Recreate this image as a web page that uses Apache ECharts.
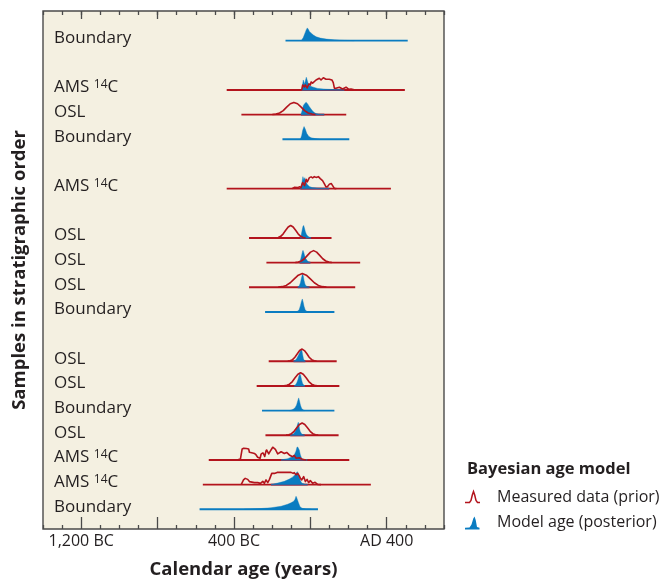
<!DOCTYPE html>
<html>
<head>
<meta charset="utf-8">
<script src="https://cdn.jsdelivr.net/npm/echarts@6/dist/echarts.min.js"></script>
<style>
  html, body { margin: 0; padding: 0; background: #ffffff; }
  #chart { width: 665px; height: 584px; }
</style>
</head>
<body>
<div id="chart"></div>
<script>
// Calendar axis: negative years are BC, positive are AD
const tickYears = [-1200, -400, 400];
const tickLabels = ['1,200 BC', '400 BC', 'AD 400'];
const majorTickYears = [-1200, -800, -400, 0, 400];

// Samples from top (youngest) to bottom (oldest) of the sequence
const sampleKinds = ['Boundary', 'AMS', 'OSL', 'Boundary', 'AMS', 'OSL', 'OSL', 'OSL',
                     'Boundary', 'OSL', 'OSL', 'Boundary', 'OSL', 'AMS', 'AMS', 'Boundary'];
const sampleSlots = [19, 17, 16, 15, 13, 11, 10, 9, 8, 6, 5, 4, 3, 2, 1, 0];
// Extent of the calculated range for each sample (years)
const rangeStart = [-130, -438, -361, -146, -438, -321, -230, -321, -237, -218, -281, -253, -235, -532, -563, -580];
const rangeEnd   = [510, 495, 188, 204, 422, 111, 261, 235, 126, 138, 152, 126, 148, 204, 317, 40];

// Measured (prior) probability curves: [year, relative density]
const prior2 = [[-45,0],[-40,.4],[-31,.24],[-26,.4],[-17,.16],[-7,.48],[0,.4],[4,.64],[12,.54],[30,.8],[47,.94],[56,.8],[68,.98],[82,.86],[99,.86],[113,.8],[120,.58],[126,.14],[134,.14],[152,.22],[169,.08],[187,.22],[200,.06],[213,.08],[230,.02],[317,0]];
const prior3 = [[-199,.01],[-180,.04],[-161,.13],[-142,.32],[-124,.6],[-105,.87],[-86,.98],[-67,.87],[-48,.6],[-30,.32],[-11,.13],[8,.04],[27,.01]];
const prior5 = [[-96,0],[-84,.1],[-66,.08],[-58,.14],[-49,.08],[-40,.48],[-30,.24],[-22,.74],[-16,.54],[-5,.88],[4,.94],[12,.86],[21,.96],[30,.9],[42,.96],[52,.8],[64,.64],[73,.4],[82,.14],[90,.16],[99,.34],[110,.4],[120,.16],[126,.02],[136,0]];
const prior6 = [[-181,.01],[-168,.04],[-155,.13],[-142,.33],[-129,.61],[-116,.88],[-103,1.0],[-90,.88],[-77,.61],[-64,.33],[-51,.13],[-38,.04],[-25,.01]];
const prior7 = [[-79,.01],[-63,.04],[-47,.13],[-31,.31],[-15,.58],[1,.84],[17,.96],[33,.84],[49,.58],[65,.31],[81,.13],[97,.04],[113,.01]];
const prior8 = [[-168,.01],[-147,.05],[-126,.15],[-105,.36],[-84,.67],[-63,.97],[-42,1.1],[-21,.97],[0,.67],[21,.36],[42,.15],[63,.05],[84,.01]];
const prior10 = [[-118,.01],[-106,.04],[-93,.13],[-81,.32],[-68,.6],[-56,.86],[-43,.98],[-31,.86],[-18,.6],[-6,.32],[7,.13],[20,.04],[32,.01]];
const prior11 = [[-138,.01],[-123,.05],[-109,.14],[-94,.35],[-80,.65],[-65,.94],[-51,1.06],[-37,.94],[-22,.65],[-8,.35],[7,.14],[21,.05],[36,.01]];
const prior13 = [[-127,.01],[-113,.04],[-99,.13],[-85,.32],[-71,.6],[-57,.86],[-43,.98],[-29,.86],[-15,.6],[-1,.32],[13,.13],[27,.04],[41,.01]];
const prior14 = [[-380,.02],[-366,.08],[-357,.88],[-349,.94],[-335,.92],[-323,.88],[-319,.62],[-302,.56],[-293,.52],[-284,.4],[-276,.22],[-263,.14],[-258,.46],[-249,.56],[-246,.52],[-239,.28],[-232,.72],[-229,.8],[-218,.48],[-206,.8],[-197,1.02],[-183,.84],[-171,.48],[-153,.66],[-136,.52],[-124,.6],[-110,.4],[-93,.26],[-84,.36],[-75,.14],[-58,.18],[-43,.06],[-22,0]];
const prior15 = [[-362,0],[-350,.38],[-341,.5],[-328,.42],[-319,.24],[-293,.16],[-276,.16],[-261,.1],[-249,.26],[-241,.1],[-232,.38],[-223,.16],[-214,.42],[-202,.9],[-188,.9],[-174,.98],[-101,.98],[-90,.9],[-84,.96],[-75,.78],[-66,.9],[-58,.7],[-52,.5],[-45,.38],[-35,.64],[-26,.24],[-17,.42],[-9,.16],[0,.32],[12,.1],[25,.18],[38,.02],[56,0]];

// Modelled (posterior) probability curves: [year, relative density]
const post1 = [[-47,0],[-37,.24],[-26,.68],[-21,.88],[-16,1.02],[-10,.9],[-5,.74],[5,.6],[16,.44],[31,.3],[52,.2],[84,.12],[126,.06],[178,.02],[230,0]];
const post2 = [[-45,0],[-41,.4],[-37,.8],[-30,.48],[-21,1.02],[-12,.56],[-2,.32],[12,.24],[38,.12],[82,.06],[134,.02],[178,0]];
const post3 = [[-49,0],[-43,.32],[-37,.72],[-30,.88],[-22,1.0],[-13,.84],[-5,.64],[4,.44],[12,.28],[21,.16],[30,.08],[47,.02],[73,0]];
const post4 = [[-52,0],[-45,.32],[-40,.72],[-33,1.02],[-26,.8],[-19,.48],[-9,.24],[4,.12],[30,.04],[47,0]];
const post5 = [[-52,0],[-44,.48],[-39,.96],[-34,.72],[-29,.88],[-24,.56],[-16,.32],[-5,.16],[10,.08],[47,.02],[99,0]];
const post6 = [[-52,0],[-47,.3],[-42,.7],[-38,.95],[-35,1.0],[-31,.8],[-26,.5],[-21,.3],[-14,.15],[-5,.06],[4,0]];
const post7 = [[-56,0],[-50,.3],[-44,.7],[-40,.95],[-38,.98],[-34,.8],[-29,.5],[-23,.3],[-16,.14],[-8,.05],[0,0]];
const post8 = [[-66,0],[-58,.12],[-52,.35],[-47,.7],[-42,1.0],[-40,1.06],[-37,.9],[-33,.55],[-28,.25],[-22,.1],[-14,.03],[-5,0]];
const post9 = [[-75,0],[-66,.06],[-58,.2],[-52,.5],[-47,.82],[-42,1.04],[-38,.82],[-33,.45],[-27,.18],[-20,.06],[-10,0]];
const post10 = [[-88,0],[-80,.06],[-72,.2],[-65,.4],[-58,.62],[-52,.82],[-48,.94],[-44,.85],[-40,.5],[-36,.2],[-32,.06],[-26,0]];
const post11 = [[-85,0],[-78,.08],[-71,.25],[-65,.5],[-60,.78],[-55,.98],[-51,.85],[-46,.5],[-41,.22],[-35,.07],[-28,0]];
const post12 = [[-110,0],[-100,.04],[-90,.1],[-80,.22],[-72,.45],[-66,.78],[-61,1.02],[-57,.8],[-52,.45],[-46,.18],[-38,.06],[-28,0]];
const post13 = [[-105,0],[-95,.05],[-86,.15],[-78,.35],[-71,.65],[-66,.92],[-63,1.04],[-60,.9],[-57,.55],[-53,.3],[-46,.12],[-38,.04],[-30,0]];
const post14 = [[-153,0],[-119,.1],[-93,.26],[-84,.4],[-75,.72],[-70,1.02],[-66,1.04],[-58,.8],[-52,.4],[-45,.12],[-31,.02],[-16,0]];
const post15 = [[-206,0],[-171,.12],[-136,.26],[-110,.44],[-93,.6],[-80,.8],[-73,.96],[-68,1.04],[-61,.8],[-52,.32],[-45,.12],[-31,.04],[-14,0]];
const post16 = [[-345,0],[-258,.06],[-206,.12],[-153,.24],[-119,.4],[-101,.52],[-87,.64],[-80,.8],[-75,1.04],[-72,.96],[-63,.56],[-54,.2],[-43,.08],[-22,.02],[4,0]];

const priors = [null, prior2, prior3, null, prior5, prior6, prior7, prior8, null, prior10, prior11, null, prior13, prior14, prior15, null];
const posteriors = [post1, post2, post3, post4, post5, post6, post7, post8, post9, post10, post11, post12, post13, post14, post15, post16];

const RED = '#b3141d';
const BLUE = '#0a7cc1';
const OVERLAP = '#7a3a60';
const INK = '#231f20';
const FRAME = '#4a4a4a';
const FONT = '"Open Sans", "Liberation Sans", sans-serif';
const PEAK = 0.505;   // height of a unit density, in row spacings

const rowData = sampleSlots.map((slot, i) => [rangeStart[i], slot, i]);

function renderRange(params, api) {
  const i = api.value(2);
  const slot = sampleSlots[i];
  const a = api.coord([rangeStart[i], slot]);
  const b = api.coord([rangeEnd[i], slot]);
  const measured = priors[i] !== null;
  const children = [{
    type: 'line',
    shape: { x1: a[0], y1: a[1], x2: b[0], y2: b[1] },
    style: { stroke: measured ? RED : BLUE, lineWidth: 1.9 }
  }];
  if (measured) {
    const post = posteriors[i];
    const p = api.coord([post[0][0], slot]);
    const q = api.coord([post[post.length - 1][0], slot]);
    children.push({
      type: 'line',
      shape: { x1: p[0], y1: p[1], x2: q[0], y2: q[1] },
      style: { stroke: OVERLAP, lineWidth: 1.9 }
    });
  }
  return { type: 'group', children };
}

function renderPosterior(params, api) {
  const i = api.value(2);
  const slot = sampleSlots[i];
  const post = posteriors[i];
  const pts = [api.coord([post[0][0], slot])];
  post.forEach(([yr, d]) => pts.push(api.coord([yr, slot + d * PEAK])));
  pts.push(api.coord([post[post.length - 1][0], slot]));
  return {
    type: 'polygon',
    shape: { points: pts },
    style: { fill: BLUE, stroke: BLUE, lineWidth: 0.4 }
  };
}

function renderPrior(params, api) {
  const i = api.value(2);
  const prior = priors[i];
  if (!prior) return null;
  const slot = sampleSlots[i];
  const pts = prior.map(([yr, d]) => api.coord([yr, slot + d * PEAK]));
  return {
    type: 'polyline',
    shape: { points: pts },
    style: { stroke: RED, lineWidth: 1.6, fill: null, lineJoin: 'round' }
  };
}

function renderLabel(params, api) {
  const i = api.value(2);
  const kind = sampleKinds[i];
  const y = api.coord([0, sampleSlots[i]])[1] - 2.5;
  const text = kind === 'AMS' ? 'AMS {sup|14}C' : kind;
  return {
    type: 'text',
    x: params.coordSys.x + 11,
    y: y,
    style: {
      text: text,
      fill: INK,
      font: '17px ' + FONT,
      verticalAlign: 'middle',
      align: 'left',
      rich: {
        sup: { fontSize: 12, fontFamily: FONT, fill: INK, verticalAlign: 'top', lineHeight: 12 }
      }
    }
  };
}

const chart = echarts.init(document.getElementById('chart'), null, { renderer: 'canvas' });

const tickStyle = { color: FRAME, width: 1.3 };
const gridBox = { left: 43, top: 11, width: 401, height: 518 };
const baseAxis = {
  type: 'value', min: -1400, max: 700,
  axisLine: { show: false, onZero: false }, splitLine: { show: false }
};

chart.setOption({
  backgroundColor: '#ffffff',
  animation: false,
  grid: [
    // plotting panel with the 100-year ticks
    Object.assign({ show: true, backgroundColor: '#f4f0e1', borderColor: FRAME, borderWidth: 1.4 }, gridBox),
    // overlay carrying the 400-year ticks and the labels
    Object.assign({ show: false }, gridBox)
  ],
  xAxis: [
    Object.assign({}, baseAxis, {
      gridIndex: 0, position: 'bottom', interval: 100,
      axisTick: { inside: true, length: 4, lineStyle: tickStyle },
      axisLabel: { show: false }
    }),
    Object.assign({}, baseAxis, {
      gridIndex: 0, position: 'top', interval: 100,
      axisTick: { inside: true, length: 4, lineStyle: tickStyle },
      axisLabel: { show: false }
    }),
    Object.assign({}, baseAxis, {
      gridIndex: 1, position: 'bottom',
      axisTick: { inside: true, length: 8, lineStyle: tickStyle, customValues: majorTickYears },
      axisLabel: {
        customValues: tickYears,
        formatter: v => tickLabels[tickYears.indexOf(v)],
        fontFamily: FONT, fontSize: 16, color: INK, margin: 8
      },
      name: 'Calendar age (years)',
      nameLocation: 'middle', nameGap: 35,
      nameTextStyle: { fontFamily: FONT, fontSize: 18.5, fontWeight: 'bold', color: INK }
    }),
    Object.assign({}, baseAxis, {
      gridIndex: 1, position: 'top',
      axisTick: { inside: true, length: 8, lineStyle: tickStyle, customValues: majorTickYears },
      axisLabel: { show: false }
    })
  ],
  yAxis: [
    { gridIndex: 0, type: 'value', min: -0.8, max: 20.2, show: false },
    { gridIndex: 1, type: 'value', min: -0.8, max: 20.2, show: false }
  ],
  series: [
    { type: 'custom', name: 'range', renderItem: renderRange, data: rowData, silent: true },
    { type: 'custom', name: 'Model age (posterior)', renderItem: renderPosterior, data: rowData, silent: true },
    { type: 'custom', name: 'Measured data (prior)', renderItem: renderPrior, data: rowData, silent: true },
    { type: 'custom', name: 'labels', renderItem: renderLabel, data: rowData, silent: true }
  ],
  graphic: [
    {
      type: 'text', x: 20, y: 270, rotation: Math.PI / 2,
      style: {
        text: 'Samples in stratigraphic order', fill: INK,
        font: 'bold 18.5px ' + FONT, align: 'center', verticalAlign: 'middle'
      }
    },
    {
      type: 'text', x: 467, y: 469,
      style: { text: 'Bayesian age model', fill: INK, font: 'bold 16.5px ' + FONT, verticalAlign: 'middle' }
    },
    {
      type: 'polyline',
      shape: { points: [[465,502.5],[469.5,502.5],[471,500.5],[472.3,495],[473.5,491.5],[474.7,495],[476,500.5],[477.5,502.5],[480,502.5]] },
      style: { stroke: RED, lineWidth: 1.5, fill: null }
    },
    {
      type: 'text', x: 497, y: 497,
      style: { text: 'Measured data (prior)', fill: INK, font: '16px ' + FONT, verticalAlign: 'middle' }
    },
    {
      type: 'polygon',
      shape: { points: [[465,529.5],[465,527.8],[469.5,527.6],[471.5,524.5],[473.3,518.5],[474.5,516.5],[475.7,520],[477,527],[479.5,527.8],[479.5,529.5]] },
      style: { fill: BLUE }
    },
    {
      type: 'text', x: 497, y: 522,
      style: { text: 'Model age (posterior)', fill: INK, font: '16px ' + FONT, verticalAlign: 'middle' }
    }
  ]
});
</script>
</body>
</html>
